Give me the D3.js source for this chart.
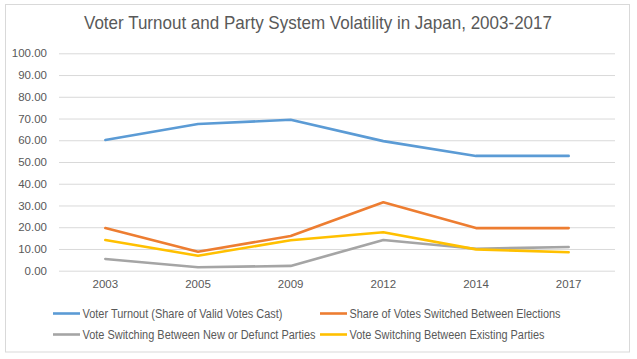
<!DOCTYPE html>
<html><head><meta charset="utf-8">
<script src="https://cdn.jsdelivr.net/npm/d3@7"></script>
<style>
html,body{margin:0;padding:0;background:#fff;}
text{font-family:"Liberation Sans",Arial,sans-serif;fill:#595959;}
</style></head>
<body><div id="chart"></div>
<script>
const years = ["2003","2005","2009","2012","2014","2017"];
const turnout = [60.1, 67.5, 69.4, 59.6, 52.8, 52.8];
const switched = [19.6, 8.7, 16.0, 31.5, 19.6, 19.6];
const newDefunct = [5.4, 1.6, 2.2, 14.1, 10.1, 10.9];
const existing = [14.1, 6.9, 14.0, 17.7, 9.8, 8.5];
const yTicks = [0,10,20,30,40,50,60,70,80,90,100];
const seriesNames = ["Voter Turnout (Share of Valid Votes Cast)","Share of Votes Switched Between Elections","Vote Switching Between New or Defunct Parties","Vote Switching Between Existing Parties"];
const colors = ["#5B9BD5","#ED7D31","#A5A5A5","#FFC000"];
const title = "Voter Turnout and Party System Volatility in Japan, 2003-2017";

const W=637,H=359;
const series=[turnout,switched,newDefunct,existing].map((v,i)=>({name:seriesNames[i],color:colors[i],values:v}));

const svg=d3.select("#chart").append("svg").attr("width",W).attr("height",H);
svg.append("rect").attr("x",5.5).attr("y",4.5).attr("width",624).attr("height",347.5)
  .attr("fill","#fff").attr("stroke","#D9D9D9").attr("stroke-width",1);

svg.append("text").attr("x",84).attr("y",29)
  .attr("textLength",468).attr("lengthAdjust","spacingAndGlyphs")
  .style("font-size","18.5px").text(title);

const x=d3.scaleBand().domain(years).range([59,615]);
const y=d3.scaleLinear().domain([0,100]).range([270.7,53.3]);

const gy=svg.append("g").attr("transform","translate(59,0)")
  .call(d3.axisLeft(y).tickValues(yTicks).tickSize(-556).tickFormat(d3.format(".2f")));
gy.select(".domain").remove();
gy.selectAll(".tick line").attr("stroke","#D9D9D9").attr("stroke-width",1);
gy.selectAll(".tick text").attr("x",-12).style("font-size","11.5px").style("font-family",null).attr("fill",null);

const gx=svg.append("g").attr("transform","translate(0,270.7)")
  .call(d3.axisBottom(x).tickSize(0));
gx.select(".domain").remove();
gx.selectAll(".tick text").attr("y",9).style("font-size","11.5px").style("font-family",null).attr("fill",null);

const line=d3.line().x((d,i)=>x(years[i])+x.bandwidth()/2).y(d=>y(d));
svg.selectAll("path.series").data(series).join("path").attr("class","series")
  .attr("d",d=>line(d.values)).attr("fill","none").attr("stroke",d=>d.color)
  .attr("stroke-width",2.6).attr("stroke-linejoin","round").attr("stroke-linecap","round");

const legPos=[[53,313.5],[320,313.5],[53,334.5],[320,334.5]];
const legW=[200,211,233,195];
const lg=svg.selectAll("g.leg").data(series).join("g").attr("class","leg")
  .attr("transform",(d,i)=>`translate(${legPos[i][0]},${legPos[i][1]})`);
lg.append("line").attr("x1",0).attr("x2",27).attr("stroke",d=>d.color).attr("stroke-width",2.6);
lg.append("text").attr("x",29.5).attr("dy","0.35em").style("font-size","12px")
  .attr("textLength",(d,i)=>legW[i]).attr("lengthAdjust","spacingAndGlyphs").text(d=>d.name);
</script></body></html>
